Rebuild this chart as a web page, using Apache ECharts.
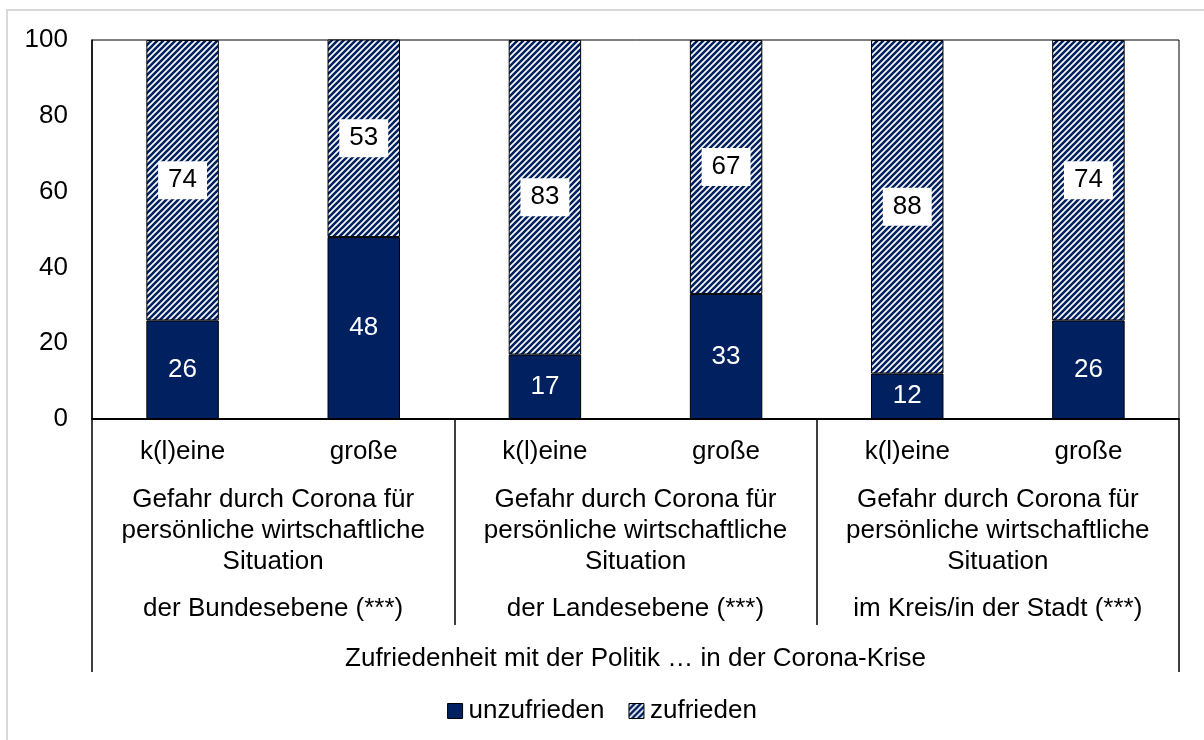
<!DOCTYPE html>
<html>
<head>
<meta charset="utf-8">
<script src="https://cdn.jsdelivr.net/npm/echarts@6/dist/echarts.min.js"></script>
<style>
  body { margin: 0; background: #fff; }
  #main { width: 1204px; height: 740px; }
</style>
</head>
<body>
<div id="main"></div>
<script>
// Daten
var categories = ['k(l)eine', 'große', 'k(l)eine', 'große', 'k(l)eine', 'große']
var groupLabels = [
  'Gefahr durch Corona für\npersönliche wirtschaftliche\nSituation',
  'Gefahr durch Corona für\npersönliche wirtschaftliche\nSituation',
  'Gefahr durch Corona für\npersönliche wirtschaftliche\nSituation'
]
var levels = ['der Bundesebene (***)', 'der Landesebene (***)', 'im Kreis/in der Stadt (***)']
var topLabel = ['Zufriedenheit mit der Politik … in der Corona-Krise']
var unzufrieden = [26, 48, 17, 33, 12, 26]
var zufrieden = [74, 53, 83, 67, 88, 74]

var navy = '#002060'
var font = 'Liberation Sans, Arial, sans-serif'
var fs = 26

// Schraffur-Muster
function makeHatch() {
  var c = document.createElement('canvas')
  c.width = 6
  c.height = 6
  var ctx = c.getContext('2d')
  ctx.fillStyle = '#fff'
  ctx.fillRect(0, 0, 6, 6)
  ctx.strokeStyle = navy
  ctx.lineWidth = 2.6
  ctx.beginPath()
  ctx.moveTo(-1, 7); ctx.lineTo(7, -1)
  ctx.moveTo(-4, 4); ctx.lineTo(4, -4)
  ctx.moveTo(2, 10); ctx.lineTo(10, 2)
  ctx.stroke()
  return c
}

var chart = echarts.init(document.getElementById('main'))
var hatch = { image: makeHatch(), repeat: 'repeat' }

var option = {
  animation: false,
  backgroundColor: '#fff',
  textStyle: { fontFamily: font, color: '#000' },
  graphic: [{
    type: 'rect',
    shape: { x: 7, y: 10, width: 1220, height: 760 },
    style: { fill: 'none', stroke: '#d9d9d9', lineWidth: 2 },
    z: -1
  }],
  grid: {
    left: 92, right: 25, top: 40, bottom: 321,
    show: true, borderColor: '#000', borderWidth: 1, backgroundColor: 'transparent'
  },
  legend: {
    bottom: 11,
    left: 'center',
    icon: 'rect',
    itemWidth: 15,
    itemHeight: 15,
    itemGap: 24,
    textStyle: { fontSize: fs, color: '#000', fontFamily: font, padding: [0, 0, 0, 1] },
    data: [
      { name: 'unzufrieden', itemStyle: { borderColor: '#000', borderWidth: 1 } },
      { name: 'zufrieden', itemStyle: { borderColor: '#000', borderWidth: 1 } }
    ]
  },
  xAxis: [
    {
      type: 'category',
      data: categories,
      position: 'bottom',
      axisLine: { show: true, lineStyle: { color: '#000', width: 2 } },
      axisTick: { show: false },
      axisLabel: { interval: 0, margin: 20, fontSize: fs, color: '#000', fontFamily: font }
    },
    {
      type: 'category',
      data: groupLabels,
      position: 'bottom',
      axisLine: { show: false },
      axisTick: { show: true, length: 206, interval: 0, lineStyle: { color: '#000', width: 1.5 } },
      axisLabel: { interval: 0, margin: 65, fontSize: fs, lineHeight: 31, color: '#000', fontFamily: font }
    },
    {
      type: 'category',
      data: levels,
      position: 'bottom',
      axisLine: { show: false },
      axisTick: { show: false },
      axisLabel: { interval: 0, margin: 177, fontSize: fs, color: '#000', fontFamily: font }
    },
    {
      type: 'category',
      data: topLabel,
      position: 'bottom',
      axisLine: { show: false },
      axisTick: { show: true, length: 253, interval: 0, lineStyle: { color: '#000', width: 1.5 } },
      axisLabel: { interval: 0, margin: 227, fontSize: fs, color: '#000', fontFamily: font }
    }
  ],
  yAxis: {
    type: 'value',
    min: 0,
    max: 100,
    interval: 20,
    axisLine: { show: true, lineStyle: { color: '#000', width: 1.5 } },
    axisTick: { show: false },
    splitLine: { show: false },
    axisLabel: { margin: 24, fontSize: fs, color: '#000', fontFamily: font }
  },
  series: [
    {
      name: 'unzufrieden',
      type: 'bar',
      stack: 'a',
      barWidth: '40%',
      itemStyle: { color: navy, borderColor: '#000', borderWidth: 1 },
      label: { show: true, position: 'inside', color: '#fff', fontSize: fs, fontFamily: font },
      data: unzufrieden
    },
    {
      name: 'zufrieden',
      type: 'bar',
      stack: 'a',
      barWidth: '40%',
      itemStyle: { color: hatch, borderColor: '#000', borderWidth: 1 },
      label: {
        show: true, position: 'inside', color: '#000', fontSize: fs, fontFamily: font,
        backgroundColor: '#fff', padding: [7, 10, 5, 10]
      },
      data: zufrieden
    }
  ]
}
chart.setOption(option)
</script>
</body>
</html>
